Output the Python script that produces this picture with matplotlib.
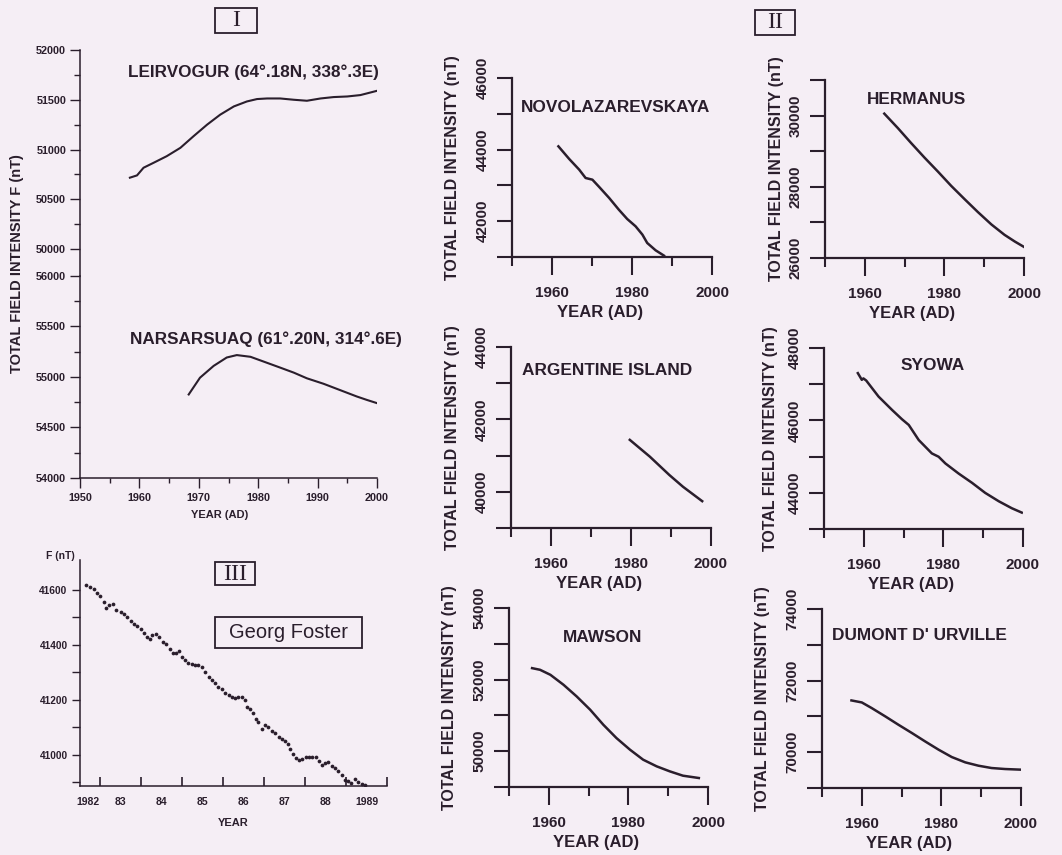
import numpy as np
import matplotlib
matplotlib.use("Agg")
import matplotlib.pyplot as plt
from matplotlib.patches import Rectangle
from matplotlib.ticker import MultipleLocator, FixedLocator, NullFormatter

# ---------------- data ----------------
# Panel I
leir_year = [1958.4, 1959.6, 1960.7, 1962.4, 1964.6, 1966.9, 1969.1, 1971.4, 1973.6, 1975.9,
             1978.1, 1979.8, 1981.5, 1983.7, 1986.0, 1988.2, 1990.5, 1992.7, 1995.0, 1997.2,
             1998.9, 2000.0]
leir_F = [50717, 50740, 50817, 50867, 50933, 51017, 51133, 51250, 51350, 51433,
          51483, 51507, 51513, 51513, 51500, 51490, 51513, 51527, 51533, 51547,
          51573, 51590]
nars_year = [1968.3, 1970.2, 1972.5, 1974.7, 1976.4, 1978.7, 1980.9, 1983.7, 1986.0, 1988.2,
             1991.0, 1993.8, 1996.6, 1998.3, 1999.9]
nars_F = [54827, 54993, 55110, 55193, 55217, 55200, 55153, 55093, 55043, 54987,
          54933, 54870, 54807, 54773, 54743]

# Panel II
novo_year = [1961.6, 1964.3, 1966.8, 1968.4, 1970.1, 1971.8, 1974.3, 1976.7, 1978.8, 1980.9,
             1982.6, 1983.8, 1985.9, 1988.0]
novo_F = [44091, 43738, 43440, 43207, 43160, 42956, 42648, 42323, 42062, 41857,
          41625, 41392, 41187, 41038]
herm_year = [1964.9, 1968.3, 1971.6, 1975.0, 1978.4, 1981.7, 1985.1, 1988.4, 1991.8, 1995.1,
             1997.7, 2000.0]
herm_F = [30055, 29650, 29234, 28820, 28424, 28027, 27650, 27292, 26943, 26651,
          26462, 26311]
arg_year = [1979.7, 1984.7, 1989.6, 1993.0, 1997.8]
arg_F = [41435, 40972, 40463, 40139, 39741]
syo_year = [1958.5, 1959.5, 1959.9, 1960.6, 1963.7, 1967.1, 1969.6, 1971.3, 1973.8, 1977.1,
            1978.8, 1980.5, 1983.8, 1987.2, 1990.5, 1993.9, 1997.2, 1999.7]
syo_F = [47306, 47121, 47160, 47102, 46659, 46289, 46031, 45874, 45458, 45088,
         44996, 44811, 44534, 44275, 43998, 43767, 43573, 43453]
maw_year = [1955.8, 1957.8, 1960.4, 1963.7, 1967.0, 1970.4, 1973.7, 1977.0, 1980.4, 1983.7,
            1987.1, 1990.4, 1993.7, 1997.7]
maw_F = [52320, 52274, 52134, 51855, 51530, 51158, 50739, 50367, 50042, 49763,
         49577, 49437, 49316, 49251]
dum_year = [1957.4, 1960.0, 1962.5, 1965.9, 1969.2, 1972.6, 1975.9, 1979.3, 1982.6, 1986.0,
            1989.3, 1992.6, 1996.0, 2000.0]
dum_F = [71446, 71390, 71232, 71000, 70767, 70535, 70302, 70070, 69865, 69716,
         69623, 69558, 69530, 69512]

station_names = ["NOVOLAZAREVSKAYA", "HERMANUS", "ARGENTINE ISLAND", "SYOWA", "MAWSON",
                 "DUMONT D' URVILLE"]
station_years = [novo_year, herm_year, arg_year, syo_year, maw_year, dum_year]
station_F = [novo_F, herm_F, arg_F, syo_F, maw_F, dum_F]
station_ylim = [(41000, 46000), (26000, 31000), (39000, 44000), (43000, 48000),
                (49000, 54000), (69000, 74000)]

# Panel III (Georg Foster)
gf_year = [1982.65, 1982.74, 1982.84, 1982.92, 1983.00, 1983.09, 1983.13, 1983.22, 1983.31, 1983.39,
           1983.49, 1983.57, 1983.65, 1983.74, 1983.82, 1983.90, 1983.98, 1984.06, 1984.14, 1984.22,
           1984.27, 1984.35, 1984.43, 1984.52, 1984.60, 1984.70, 1984.76, 1984.84, 1984.92, 1984.99,
           1985.07, 1985.15, 1985.23, 1985.31, 1985.39, 1985.48, 1985.56, 1985.64, 1985.72, 1985.80,
           1985.88, 1985.96, 1986.04, 1986.13, 1986.21, 1986.29, 1986.37, 1986.45, 1986.52, 1986.57,
           1986.65, 1986.73, 1986.79, 1986.86, 1986.94, 1987.02, 1987.10, 1987.18, 1987.26, 1987.35,
           1987.43, 1987.51, 1987.59, 1987.64, 1987.70, 1987.77, 1987.85, 1987.93, 1988.01, 1988.09,
           1988.17, 1988.26, 1988.34, 1988.40, 1988.48, 1988.57, 1988.65, 1988.73, 1988.81, 1988.89,
           1988.97, 1989.05, 1989.13, 1989.22, 1989.30, 1989.38, 1989.46]
gf_F = [41618, 41612, 41602, 41588, 41578, 41558, 41533, 41545, 41548, 41527,
        41521, 41513, 41503, 41488, 41476, 41469, 41457, 41442, 41428, 41421,
        41438, 41439, 41428, 41411, 41404, 41387, 41372, 41370, 41377, 41355,
        41345, 41336, 41331, 41326, 41328, 41319, 41302, 41285, 41273, 41261,
        41248, 41239, 41227, 41217, 41212, 41207, 41210, 41212, 41200, 41173,
        41168, 41152, 41132, 41120, 41093, 41108, 41101, 41088, 41079, 41064,
        41057, 41050, 41038, 41023, 41004, 40988, 40982, 40987, 40992, 40994,
        40992, 40992, 40979, 40965, 40970, 40975, 40958, 40953, 40943, 40926,
        40909, 40907, 40899, 40914, 40902, 40895, 40890]
gf_tick_labels = ["1982", "83", "84", "85", "86", "87", "88", "1989"]
gf_label_years = [1982, 1983, 1984, 1985, 1986, 1987, 1988, 1989]

# ---------------- style ----------------
W, H = 1062, 855
INK = "#2a1e2c"
BG = "#f5eef5"
FONT = "Liberation Sans"
plt.rcParams["font.family"] = [FONT, "DejaVu Sans"]
plt.rcParams["text.color"] = INK
plt.rcParams["axes.labelcolor"] = INK
plt.rcParams["xtick.color"] = INK
plt.rcParams["ytick.color"] = INK
plt.rcParams["axes.edgecolor"] = INK


def rect(l, t, r, b):
    return [l / W, 1 - b / H, (r - l) / W, (b - t) / H]


def fx(px):
    return px / W


def fy(py):
    return 1 - py / H


def fig_box(l, t, r, b, lw=1.3):
    fig.patches.append(Rectangle((l / W, 1 - b / H), (r - l) / W, (b - t) / H,
                                 transform=fig.transFigure, fill=False,
                                 edgecolor=INK, linewidth=lw))


fig = plt.figure(figsize=(W / 100, H / 100), dpi=100, facecolor=BG)

# ---------------- Panel I ----------------
axA = fig.add_axes(rect(80, 50, 377, 276))
axB = fig.add_axes(rect(80, 276, 377, 478))
for ax in (axA, axB):
    ax.set_facecolor("none")
    ax.spines["top"].set_visible(False)
    ax.spines["right"].set_visible(False)
    ax.spines["left"].set_linewidth(1.1)
    ax.spines["bottom"].set_linewidth(1.1)
    ax.set_xlim(1950, 2000)
    ax.tick_params(axis="y", which="major", direction="out", length=7, width=1.0, pad=3,
                   labelsize=7.8)
    ax.tick_params(axis="y", which="minor", direction="out", length=4.3, width=1.0)

axA.spines["bottom"].set_visible(False)
axA.set_ylim(49729, 52000)
axA.set_yticks([50000, 50500, 51000, 51500, 52000])
axA.set_yticklabels(["50000", "50500", "51000", "51500", "52000"], fontweight="bold")
axA.yaxis.set_minor_locator(FixedLocator([50250, 50750, 51250, 51750]))
axA.tick_params(axis="x", which="both", bottom=False, labelbottom=False)
axA.plot(leir_year, leir_F, color=INK, lw=1.5)

axB.set_ylim(54000, 56000)
axB.set_yticks([54000, 54500, 55000, 55500, 56000])
axB.set_yticklabels(["54000", "54500", "55000", "55500", "56000"], fontweight="bold")
axB.yaxis.set_minor_locator(FixedLocator([54250, 54750, 55250, 55750]))
axB.xaxis.set_major_locator(MultipleLocator(10))
axB.xaxis.set_minor_locator(MultipleLocator(5))
axB.tick_params(axis="x", which="major", direction="out", length=7.5, width=1.0, pad=3.5,
                labelsize=7.8)
axB.tick_params(axis="x", which="minor", direction="out", length=3.4, width=1.0)
for lab in axB.get_xticklabels():
    lab.set_fontweight("bold")
axB.plot(nars_year, nars_F, color=INK, lw=1.5)
axB.set_xlabel("YEAR (AD)", fontsize=8, fontweight="bold")
axB.xaxis.set_label_coords((220 - 80) / (377 - 80), -(515 - 478) / (478 - 276))
axB.xaxis.label.set_va("center")

fig.text(fx(17), fy(264), "TOTAL FIELD INTENSITY F (nT)", rotation=90, ha="center",
         va="center", fontsize=10.5, fontweight="bold")
fig.text(fx(128), fy(72), "LEIRVOGUR (64°.18N, 338°.3E)", ha="left", va="center",
         fontsize=12.3, fontweight="bold")
fig.text(fx(130), fy(339), "NARSARSUAQ (61°.20N, 314°.6E)", ha="left", va="center",
         fontsize=12.3, fontweight="bold")

# Roman numeral boxes
fig_box(215, 8, 257, 33)
fig.text(fx(236), fy(21), "I", ha="center", va="center", fontsize=17,
         family="Liberation Serif")
fig_box(755, 10, 795, 35)
fig.text(fx(775), fy(23), "II", ha="center", va="center", fontsize=17,
         family="Liberation Serif")
fig_box(215, 562, 255, 585)
fig.text(fx(235), fy(574), "III", ha="center", va="center", fontsize=17,
         family="Liberation Serif")

# ---------------- Panel II ----------------
rects = [(512, 78, 712, 257), (825, 80, 1024, 258),
         (511, 347, 711, 528), (824, 348, 1023, 529),
         (509, 608, 708, 787), (822, 609, 1021, 788)]
title_pos = [(521, 107), (867, 100), (522, 370), (901, 365), (563, 637), (832, 635)]
ylabel_off = [59, 49, 58, 54, 59, 59]

for i in range(6):
    l, t, r, b = rects[i]
    ax = fig.add_axes(rect(l, t, r, b))
    ax.set_facecolor("none")
    ax.spines["top"].set_visible(False)
    ax.spines["right"].set_visible(False)
    ax.spines["left"].set_linewidth(1.6)
    ax.spines["bottom"].set_linewidth(1.6)
    ax.set_xlim(1950, 2000)
    ax.set_ylim(*station_ylim[i])
    ax.plot(station_years[i], station_F[i], color=INK, lw=1.8)
    ax.xaxis.set_minor_locator(FixedLocator([1950, 1970, 1990]))
    ax.yaxis.set_major_locator(MultipleLocator(2000))
    ax.yaxis.set_minor_locator(MultipleLocator(1000))
    ax.set_xticks([1960, 1980, 2000])
    ax.set_xticklabels(["1960", "1980", "2000"], fontweight="bold")
    ax.tick_params(axis="x", which="major", direction="out", length=13, width=1.5, pad=8,
                   labelsize=11)
    ax.tick_params(axis="x", which="minor", direction="out", length=6.5, width=1.5)
    ax.tick_params(axis="y", which="both", direction="out", length=11, width=1.5, pad=5,
                   labelsize=11)
    for lab in ax.get_yticklabels():
        lab.set_rotation(90)
        lab.set_va("center")
        lab.set_fontweight("bold")
    ax.set_xlabel("YEAR (AD)", fontsize=12, fontweight="bold")
    ax.xaxis.set_label_coords(0.44, -55 / (b - t))
    ax.xaxis.label.set_va("center")
    ax.set_ylabel("TOTAL FIELD INTENSITY (nT)", fontsize=11.5, fontweight="bold")
    ax.yaxis.set_label_coords(-ylabel_off[i] / (r - l), 0.5)
    ax.yaxis.label.set_va("center")
    tx, ty = title_pos[i]
    fig.text(fx(tx), fy(ty), station_names[i], ha="left", va="center", fontsize=12.4,
             fontweight="bold")

# ---------------- Panel III ----------------
axC = fig.add_axes(rect(80, 560, 387, 786))
axC.set_facecolor("none")
axC.spines["top"].set_visible(False)
axC.spines["right"].set_visible(False)
axC.spines["left"].set_linewidth(1.1)
axC.spines["bottom"].set_linewidth(1.1)
axC.set_xlim(1982.5, 1990.0)
axC.set_ylim(40887, 41709)
axC.plot(gf_year, gf_F, linestyle="none", marker="o", markersize=2.7, color=INK,
         markeredgewidth=0)
axC.set_xticks(np.arange(1983, 1991))
axC.xaxis.set_major_formatter(NullFormatter())
lab_pos = np.array(gf_label_years, dtype=float) + 0.5
lab_pos[0] = 1982.7
axC.set_xticks(lab_pos, minor=True)
axC.set_xticklabels(gf_tick_labels, minor=True, fontweight="bold")
axC.tick_params(axis="x", which="major", direction="in", length=6.5, width=1.2)
axC.tick_params(axis="x", which="minor", length=0, pad=8, labelsize=7.5)
axC.set_yticks([41000, 41200, 41400, 41600])
axC.set_yticklabels(["41000", "41200", "41400", "41600"], fontweight="bold")
axC.yaxis.set_minor_locator(FixedLocator([40900, 41100, 41300, 41500]))
axC.tick_params(axis="y", which="both", direction="out", length=6, width=1.0, pad=3,
                labelsize=7.3)
axC.set_xlabel("YEAR", fontsize=8, fontweight="bold")
axC.xaxis.set_label_coords((233 - 80) / (387 - 80), -(823 - 786) / (786 - 560))
axC.xaxis.label.set_va("center")
fig.text(fx(75), fy(556), "F (nT)", ha="right", va="center", fontsize=7.5,
         fontweight="bold")
fig_box(215, 617, 362, 648)
fig.text(fx(288.5), fy(632.5), "Georg Foster", ha="center", va="center", fontsize=14.5)

fig.savefig("out.png", dpi=100, facecolor=BG)
